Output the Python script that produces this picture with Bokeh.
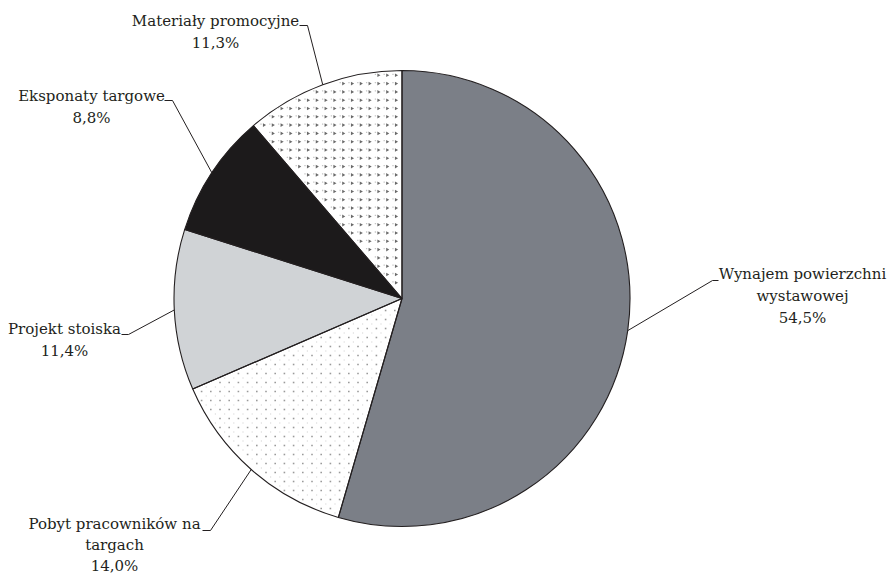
import numpy as np
from bokeh.plotting import figure
from bokeh.models import Range1d, ColumnDataSource
from bokeh.core.properties import value
from bokeh.embed import file_html
from bokeh.resources import INLINE

# Shares of trade-fair costs, clockwise from 12 o'clock
categories = [
    "Wynajem powierzchni wystawowej",
    "Pobyt pracowników na targach",
    "Projekt stoiska",
    "Eksponaty targowe",
    "Materiały promocyjne",
]
shares = [54.5, 14.0, 11.4, 8.8, 11.3]
share_labels = ["54,5%", "14,0%", "11,4%", "8,8%", "11,3%"]
label_lines = [
    ["Wynajem powierzchni", "wystawowej"],
    ["Pobyt pracowników na", "targach"],
    ["Projekt stoiska"],
    ["Eksponaty targowe"],
    ["Materiały promocyjne"],
]

W, H = 889, 575
FONT = "DejaVu Serif"
FONT_SIZE = "15px"
EDGE = "#231f20"

fills = ["#7b7f87", "#ffffff", "#d0d3d6", "#1c1a1b", "#ffffff"]

# pie geometry (screen pixels, y measured downward)
cx_px, cy_px, R = 401.5, 298.0, 228.0
cx, cy = cx_px, H - cy_px

# label layout: centre x, first line y, line gap, tick start/end x, tick y
label_layout = [
    dict(x=802, y=273, gap=22, tick=(718, 712), ty=280),
    dict(x=114, y=523, gap=21, tick=(202, 210), ty=530),
    dict(x=64, y=328, gap=22, tick=(121, 128), ty=334),
    dict(x=91, y=95, gap=22, tick=(164, 172), ty=100),
    dict(x=215, y=20, gap=22, tick=(299, 307), ty=25),
]

frac = np.array(shares) / sum(shares)
cum = np.concatenate([[0], np.cumsum(frac)])
start = np.radians(90 - cum[1:] * 360)
end = np.radians(90 - cum[:-1] * 360)
mid = (start + end) / 2

p = figure(width=W, height=H, x_range=Range1d(0, W), y_range=Range1d(0, H),
           output_backend="svg", toolbar_location=None, min_border=0)
p.axis.visible = False
p.grid.visible = False
p.outline_line_color = None
p.background_fill_color = "white"

src = ColumnDataSource(dict(start=start, end=end, fill=fills, name=categories))
p.wedge(x=cx, y=cy, radius=R, start_angle="start", end_angle="end",
        fill_color="fill", line_color=None, source=src)


def inside(xs, ys, a0, a1, margin=2.5):
    dx, dy = xs - cx, ys - cy
    r = np.hypot(dx, dy)
    ang = np.arctan2(dy, dx)
    rel = np.mod(ang - a0, 2 * np.pi)
    span = np.mod(a1 - a0, 2 * np.pi)
    ok = (r < R - margin) & (rel > 0) & (rel < span)
    d0 = np.abs(np.sin(rel)) * r
    d1 = np.abs(np.sin(span - rel)) * r
    return ok & (d0 > margin) & (d1 > margin)


def grid(step_x, step_y, off_x=0.0, off_y=0.0):
    gx = np.arange(cx - R + off_x, cx + R, step_x)
    gy = np.arange(cy - R + off_y, cy + R, step_y)
    X, Y = np.meshgrid(gx, gy)
    return X.ravel(), Y.ravel()

# dotted texture for slice 1
X, Y = grid(9.2, 9.0)
m = inside(X, Y, start[1], end[1])
p.scatter(X[m], Y[m], marker="square", size=1.6, fill_color="#9a9a9a", line_color=None)
X, Y = grid(9.2, 9.0, 4.6, 4.5)
m = inside(X, Y, start[1], end[1])
p.scatter(X[m], Y[m], marker="square", size=1.2, fill_color="#d4d4d4", line_color=None)

# chevron texture for slice 4
X, Y = grid(8.8, 8.3, 2.0, 3.0)
m = inside(X, Y, start[4], end[4], 3.0)
p.scatter(X[m], Y[m], marker="triangle", size=3.6, angle=-np.pi / 2,
          fill_color="#6a6a6a", line_color=None)
p.scatter(X[m] - 3.0, Y[m] + 1.0, marker="square", size=1.3,
          fill_color="#c4c4c4", line_color=None)

# outlines drawn over the textures
p.wedge(x=cx, y=cy, radius=R, start_angle="start", end_angle="end",
        fill_alpha=0, line_color=EDGE, line_width=1.1, source=src)

# labels with leader lines
for i, lay in enumerate(label_layout):
    lines = label_lines[i] + [share_labels[i]]
    xs = [lay["x"]] * len(lines)
    ys = [H - (lay["y"] + k * lay["gap"]) for k in range(len(lines))]
    p.text(x=xs, y=ys, text=lines, text_font=value(FONT), text_font_size=FONT_SIZE,
           text_align="center", text_baseline="middle", text_color="#231f20")
    ax = cx + R * np.cos(mid[i])
    ay = cy + R * np.sin(mid[i])
    t0, t1 = lay["tick"]
    ty = H - lay["ty"]
    p.line([t0, t1, ax], [ty, ty, ay], line_color=EDGE, line_width=1.0)

open("out.html", "w").write(file_html(p, INLINE))
